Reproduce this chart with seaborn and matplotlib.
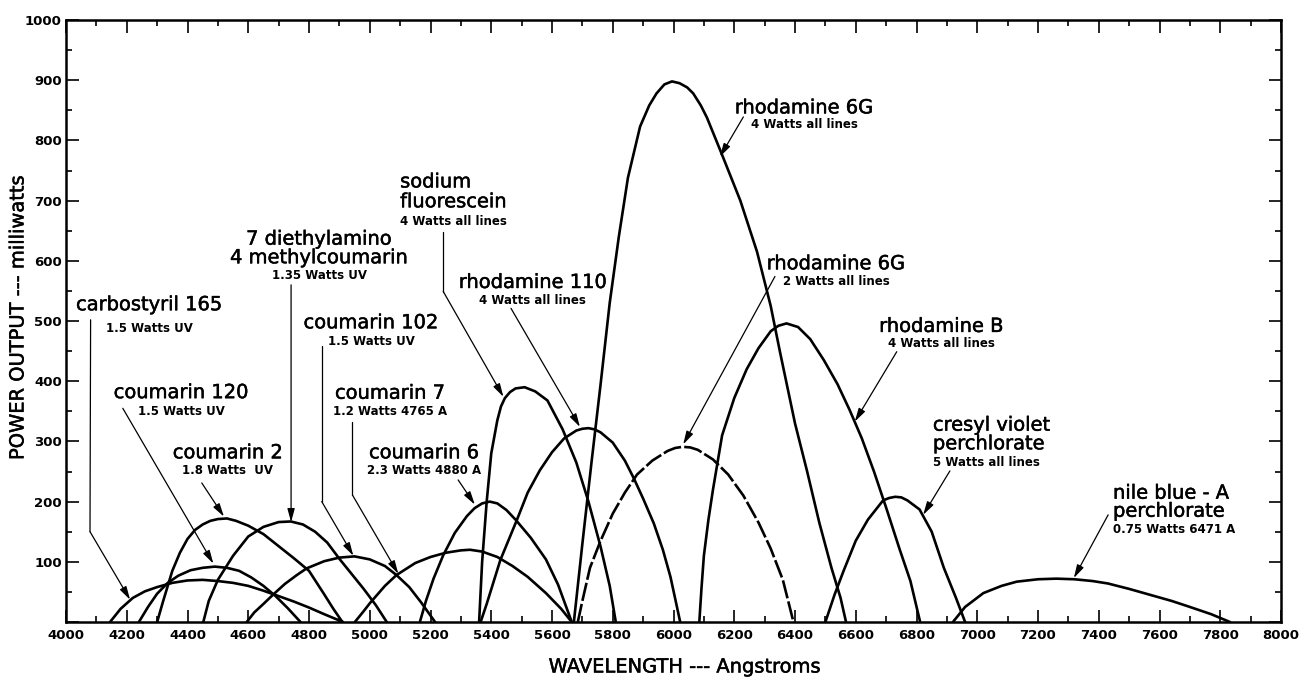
import matplotlib
matplotlib.use("Agg")
import matplotlib.pyplot as plt
import matplotlib.patheffects as pe
import numpy as np
import pandas as pd
import seaborn as sns
from matplotlib.ticker import MultipleLocator, FuncFormatter

# ---------------- data (wavelength in Angstroms, power in milliwatts) ----------------
carbostyril_165_x = [4145, 4180, 4220, 4260, 4300, 4350, 4400, 4450, 4500, 4550, 4600, 4650, 4700, 4750, 4800, 4850, 4912]
carbostyril_165_y = [0, 22, 40, 51, 58, 65, 69, 70, 68, 65, 60, 52, 43, 34, 24, 13, 0]

coumarin_120_x = [4240, 4270, 4300, 4335, 4370, 4410, 4450, 4490, 4530, 4570, 4610, 4650, 4690, 4730, 4772]
coumarin_120_y = [0, 25, 47, 65, 77, 86, 90, 92, 90, 85, 74, 60, 43, 23, 0]

coumarin_2_x = [4300, 4320, 4350, 4375, 4400, 4425, 4450, 4475, 4500, 4530, 4560, 4600, 4650, 4700, 4750, 4800, 4850, 4880, 4910]
coumarin_2_y = [0, 35, 85, 115, 138, 153, 162, 168, 171, 172, 168, 160, 146, 126, 106, 85, 46, 22, 0]

diethylamino_x = [4452, 4470, 4500, 4550, 4600, 4650, 4700, 4740, 4780, 4820, 4860, 4900, 4940, 4980, 5020, 5056]
diethylamino_y = [0, 35, 70, 110, 142, 158, 166, 167, 162, 150, 132, 105, 80, 55, 28, 0]

coumarin_102_x = [4595, 4620, 4650, 4683, 4720, 4760, 4792, 4850, 4900, 4950, 5000, 5050, 5088, 5130, 5170, 5215]
coumarin_102_y = [0, 16, 30, 46, 63, 78, 89, 101, 107, 109, 104, 93, 78, 58, 32, 0]

coumarin_7_x = [4951, 4980, 5000, 5050, 5088, 5150, 5200, 5250, 5300, 5330, 5370, 5420, 5470, 5520, 5580, 5630, 5665]
coumarin_7_y = [0, 18, 31, 60, 78, 98, 108, 115, 119, 120, 117, 108, 93, 75, 48, 22, 0]

coumarin_6_x = [5165, 5185, 5210, 5242, 5280, 5320, 5345, 5370, 5395, 5420, 5450, 5480, 5530, 5580, 5620, 5665]
coumarin_6_y = [0, 35, 72, 111, 148, 176, 189, 197, 200, 197, 186, 170, 140, 104, 62, 0]

sodium_fluorescein_x = [5360, 5370, 5385, 5400, 5420, 5432, 5445, 5462, 5480, 5510, 5545, 5585, 5635, 5680, 5720, 5760, 5790, 5810]
sodium_fluorescein_y = [0, 100, 200, 280, 335, 358, 372, 382, 388, 390, 383, 368, 320, 265, 200, 125, 60, 0]

rhodamine_110_x = [5365, 5385, 5430, 5484, 5520, 5560, 5600, 5640, 5680, 5700, 5720, 5740, 5760, 5800, 5840, 5870, 5900, 5935, 5965, 5990, 6005, 6022]
rhodamine_110_y = [0, 30, 103, 169, 215, 252, 282, 305, 318, 321, 322, 320, 315, 298, 268, 238, 205, 164, 120, 75, 40, 0]

rhodamine_6g_4w_x = [5672, 5700, 5730, 5760, 5790, 5820, 5850, 5890, 5920, 5944, 5970, 5995, 6020, 6045, 6065, 6090, 6110, 6160, 6220, 6275, 6320, 6350, 6400, 6440, 6480, 6520, 6550, 6568]
rhodamine_6g_4w_y = [0, 130, 265, 395, 530, 640, 738, 823, 858, 878, 893, 898, 895, 888, 878, 858, 838, 776, 700, 615, 525, 450, 330, 250, 165, 90, 40, 0]

rhodamine_6g_2w_x = [5685, 5700, 5725, 5760, 5800, 5840, 5880, 5930, 5980, 6005, 6030, 6055, 6080, 6130, 6180, 6230, 6280, 6320, 6360, 6395]
rhodamine_6g_2w_y = [0, 35, 90, 135, 180, 215, 245, 268, 284, 289, 291, 290, 286, 270, 245, 210, 165, 122, 70, 0]

rhodamine_b_x = [6085, 6092, 6100, 6115, 6130, 6160, 6200, 6241, 6280, 6320, 6345, 6372, 6410, 6450, 6495, 6540, 6580, 6620, 6660, 6700, 6745, 6780, 6812]
rhodamine_b_y = [0, 55, 110, 170, 220, 310, 372, 420, 455, 483, 492, 496, 490, 470, 435, 395, 352, 305, 250, 190, 120, 68, 0]

cresyl_violet_x = [6500, 6530, 6560, 6600, 6640, 6690, 6710, 6730, 6750, 6770, 6810, 6850, 6890, 6930, 6960]
cresyl_violet_y = [0, 45, 85, 135, 170, 202, 206, 208, 207, 202, 187, 150, 90, 40, 0]

nile_blue_x = [6920, 6960, 7020, 7080, 7130, 7200, 7260, 7320, 7380, 7430, 7500, 7570, 7640, 7700, 7770, 7832]
nile_blue_y = [0, 25, 48, 60, 67, 71, 72, 71, 68, 64, 55, 45, 35, 25, 13, 0]

x_ticks = list(range(4000, 8001, 200))
y_ticks = list(range(0, 1001, 100))

curves = [
    ("carbostyril 165", carbostyril_165_x, carbostyril_165_y, "solid"),
    ("coumarin 120", coumarin_120_x, coumarin_120_y, "solid"),
    ("coumarin 2", coumarin_2_x, coumarin_2_y, "solid"),
    ("7 diethylamino 4 methylcoumarin", diethylamino_x, diethylamino_y, "solid"),
    ("coumarin 102", coumarin_102_x, coumarin_102_y, "solid"),
    ("coumarin 7", coumarin_7_x, coumarin_7_y, "solid"),
    ("coumarin 6", coumarin_6_x, coumarin_6_y, "solid"),
    ("sodium fluorescein", sodium_fluorescein_x, sodium_fluorescein_y, "solid"),
    ("rhodamine 110", rhodamine_110_x, rhodamine_110_y, "solid"),
    ("rhodamine 6G 4W", rhodamine_6g_4w_x, rhodamine_6g_4w_y, "solid"),
    ("rhodamine 6G 2W", rhodamine_6g_2w_x, rhodamine_6g_2w_y, "dashed"),
    ("rhodamine B", rhodamine_b_x, rhodamine_b_y, "solid"),
    ("cresyl violet perchlorate", cresyl_violet_x, cresyl_violet_y, "solid"),
    ("nile blue-A perchlorate", nile_blue_x, nile_blue_y, "solid"),
]

rows = []
for name, xs, ys, kind in curves:
    for x, y in zip(xs, ys):
        rows.append({"dye": name, "wavelength": x, "power": y, "kind": kind})
df = pd.DataFrame(rows)

# ---------------- figure ----------------
sns.set_theme(style="white")
plt.rcParams["font.family"] = ["DejaVu Sans"]

fig = plt.figure(figsize=(13.11, 6.77), dpi=100)
ax = fig.add_axes([66 / 1311, 55 / 677, 1215 / 1311, 602 / 677])

for name, xs, ys, kind in curves:
    sub = df[df["dye"] == name]
    ls = "-" if kind == "solid" else (0, (7, 1.2))
    sns.lineplot(data=sub, x="wavelength", y="power", ax=ax, color="black",
                 lw=1.9, linestyle=ls, sort=False, estimator=None, legend=False,
                 solid_joinstyle="round", solid_capstyle="round")

ax.set_xlim(4000, 8000)
ax.set_ylim(0, 1000)
ax.set_xticks(x_ticks)
ax.set_yticks(y_ticks)
ax.xaxis.set_minor_locator(MultipleLocator(100))
ax.yaxis.set_minor_locator(MultipleLocator(50))
ax.yaxis.set_major_formatter(FuncFormatter(lambda v, p: "" if v == 0 else f"{int(v)}"))
ax.tick_params(which="both", direction="in", top=True, right=True, bottom=True, left=True, color="black")
ax.tick_params(which="major", length=9, width=1.2)
ax.tick_params(which="minor", length=4.5, width=1.2)
ax.tick_params(axis="x", which="major", labelsize=9.5, pad=5, labelcolor="black")
ax.tick_params(axis="y", which="major", labelsize=9.5, pad=3, labelcolor="black")
for lab in ax.get_xticklabels() + ax.get_yticklabels():
    lab.set_fontweight("bold")
for sp in ax.spines.values():
    sp.set_color("black")
    sp.set_linewidth(1.8)
ax.set_xlabel("")
ax.set_ylabel("")
ax.grid(False)

THICK = [pe.withStroke(linewidth=0.35, foreground="black")]

fig.text(685 / 1311, 1 - 667 / 677, "WAVELENGTH --- Angstroms", ha="center", va="center",
         fontsize=14, color="black", path_effects=THICK)
fig.text(18 / 1311, 1 - 317 / 677, "POWER OUTPUT --- milliwatts", ha="center", va="center",
         rotation=90, fontsize=14, color="black", path_effects=THICK)

# ---------------- annotations ----------------
MAIN = dict(fontsize=14, color="black", va="center", path_effects=THICK)
SUB = dict(fontsize=8.5, fontweight="bold", color="black", va="center")
ARROW = dict(arrowstyle="-|>,head_length=0.8,head_width=0.22", color="black", lw=0.9,
             shrinkA=0, shrinkB=0, mutation_scale=10)


def arrow(start, tip):
    ax.annotate("", xy=tip, xytext=start, arrowprops=ARROW)


def leader(p0, p1):
    ax.plot([p0[0], p1[0]], [p0[1], p1[1]], color="black", lw=0.9)


# carbostyril 165
ax.text(4275, 527, "carbostyril 165", ha="center", **MAIN)
ax.text(4275, 488, "1.5 Watts UV", ha="center", **SUB)
leader((4081, 502), (4079, 150))
arrow((4079, 150), (4211, 37))

# 7 diethylamino 4 methylcoumarin
ax.text(4833, 636, "7 diethylamino", ha="center", **MAIN)
ax.text(4833, 605, "4 methylcoumarin", ha="center", **MAIN)
ax.text(4833, 576, "1.35 Watts UV", ha="center", **SUB)
arrow((4741, 560), (4741, 166))

# coumarin 102
ax.text(5004, 497, "coumarin 102", ha="center", **MAIN)
ax.text(5004, 466, "1.5 Watts UV", ha="center", **SUB)
leader((4842, 458), (4842, 200))
arrow((4842, 200), (4946, 110))

# coumarin 120
ax.text(4379, 381, "coumarin 120", ha="center", **MAIN)
ax.text(4379, 350, "1.5 Watts UV", ha="center", **SUB)
arrow((4187, 355), (4485, 97))

# coumarin 2
ax.text(4533, 281, "coumarin 2", ha="center", **MAIN)
ax.text(4533, 251, "1.8 Watts  UV", ha="center", **SUB)
arrow((4447, 231), (4520, 175))

# coumarin 7
ax.text(5067, 380, "coumarin 7", ha="center", **MAIN)
ax.text(5067, 350, "1.2 Watts 4765 A", ha="center", **SUB)
leader((4943, 333), (4943, 211))
arrow((4943, 211), (5094, 80))

# coumarin 6
ax.text(5179, 281, "coumarin 6", ha="center", **MAIN)
ax.text(5179, 251, "2.3 Watts 4880 A", ha="center", **SUB)
arrow((5291, 236), (5346, 195))

# sodium fluorescein
ax.text(5100, 731, "sodium", ha="left", **MAIN)
ax.text(5100, 698, "fluorescein", ha="left", **MAIN)
ax.text(5100, 666, "4 Watts all lines", ha="left", **SUB)
leader((5242, 648), (5242, 549))
arrow((5242, 549), (5440, 374))

# rhodamine 110
ax.text(5537, 564, "rhodamine 110", ha="center", **MAIN)
ax.text(5537, 534, "4 Watts all lines", ha="center", **SUB)
arrow((5465, 521), (5692, 324))

# rhodamine 6G (4 W)
ax.text(6430, 854, "rhodamine 6G", ha="center", **MAIN)
ax.text(6430, 827, "4 Watts all lines", ha="center", **SUB)
arrow((6230, 839), (6153, 773))

# rhodamine 6G (2 W)
ax.text(6535, 595, "rhodamine 6G", ha="center", **MAIN)
ax.text(6535, 565, "2 Watts all lines", ha="center", **SUB)
arrow((6334, 574), (6032, 295))

# rhodamine B
ax.text(6882, 491, "rhodamine B", ha="center", **MAIN)
ax.text(6882, 463, "4 Watts all lines", ha="center", **SUB)
arrow((6735, 449), (6597, 333))

# cresyl violet perchlorate
ax.text(6854, 327, "cresyl violet", ha="left", **MAIN)
ax.text(6854, 296, "perchlorate", ha="left", **MAIN)
ax.text(6854, 265, "5 Watts all lines", ha="left", **SUB)
arrow((6910, 251), (6822, 178))

# nile blue - A perchlorate
ax.text(7447, 214, "nile blue - A", ha="left", **MAIN)
ax.text(7447, 184, "perchlorate", ha="left", **MAIN)
ax.text(7447, 153, "0.75 Watts 6471 A", ha="left", **SUB)
arrow((7431, 178), (7318, 73))

fig.savefig("out.png", dpi=100, facecolor="white")
